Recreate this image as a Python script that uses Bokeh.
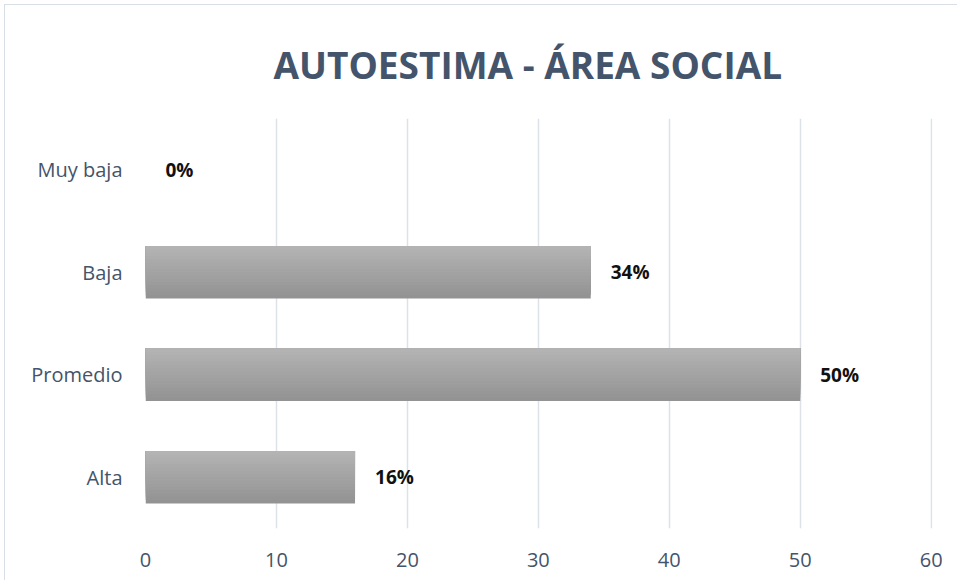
from bokeh.plotting import figure
from bokeh.models import ColumnDataSource, Range1d, FactorRange
from bokeh.transform import dodge
from bokeh.core.properties import value
from bokeh.embed import file_html
from bokeh.resources import INLINE

# Data
categories = ["Muy baja", "Baja", "Promedio", "Alta"]
values = [0, 34, 50, 16]
x_ticks = [0, 10, 20, 30, 40, 50, 60]
title_text = "AUTOESTIMA - ÁREA SOCIAL"

labels = [f"{v}%" for v in values]
source = ColumnDataSource(data=dict(cat=categories, val=values, lab=labels))

p = figure(width=953, height=576, output_backend="svg", toolbar_location=None,
           y_range=FactorRange(factors=list(reversed(categories)), range_padding=0),
           x_range=Range1d(0, 60.1),
           min_border_left=140, min_border_right=26, min_border_top=113, min_border_bottom=53)
p.styles = {"border-left": "1px solid #D9DEE6", "border-top": "1px solid #D9DEE6",
            "margin-left": "4px", "margin-top": "4px"}

# gradient bars built from stacked slices (painter order, no seams)
N = 16
bar_h = 0.51
sh = bar_h / N
top_c = (0xB3, 0xB3, 0xB3)
bot_c = (0x93, 0x93, 0x93)
for i in range(N):
    t = i / (N - 1)  # 0 bottom, 1 top
    c = tuple(int(round(bot_c[k] + (top_c[k] - bot_c[k]) * t)) for k in range(3))
    col = "#%02x%02x%02x" % c
    b = -bar_h / 2 + i * sh
    top = bar_h / 2
    p.hbar(y=dodge("cat", (b + top) / 2, range=p.y_range), right="val", left=0,
           height=top - b, source=source, fill_color=col, line_color=None)

p.text(x="val", y="cat", text="lab", source=source, x_offset=20,
       text_baseline="middle", text_align="left",
       text_font=value("Open Sans"), text_font_style="bold", text_font_size="19px",
       text_color="#111111")

p.title.text = title_text
p.title.align = "left"
p.title.offset = 128
p.title.text_font = "Open Sans"
p.title.text_font_size = "37px"
p.title.text_font_style = "bold"
p.title.text_color = "#44546A"
p.title.standoff = 58

p.xaxis.ticker = x_ticks
p.xaxis.axis_line_color = None
p.xaxis.major_tick_line_color = None
p.xaxis.minor_tick_line_color = None
p.xaxis.major_label_text_font = "Open Sans"
p.xaxis.major_label_text_font_size = "20px"
p.xaxis.major_label_text_color = "#44546A"
p.xaxis.major_label_standoff = 18

p.yaxis.axis_line_color = None
p.yaxis.major_tick_line_color = None
p.yaxis.minor_tick_line_color = None
p.yaxis.major_label_text_font = "Open Sans"
p.yaxis.major_label_text_font_size = "20px"
p.yaxis.major_label_text_color = "#44546A"
p.yaxis.major_label_standoff = 17

p.ygrid.grid_line_color = None
p.xgrid.grid_line_color = "#DDE1E8"
p.xgrid.grid_line_width = 1.5
p.outline_line_color = None
p.background_fill_color = "white"
p.border_fill_color = "white"

open("out.html", "w").write(file_html(p, INLINE))
